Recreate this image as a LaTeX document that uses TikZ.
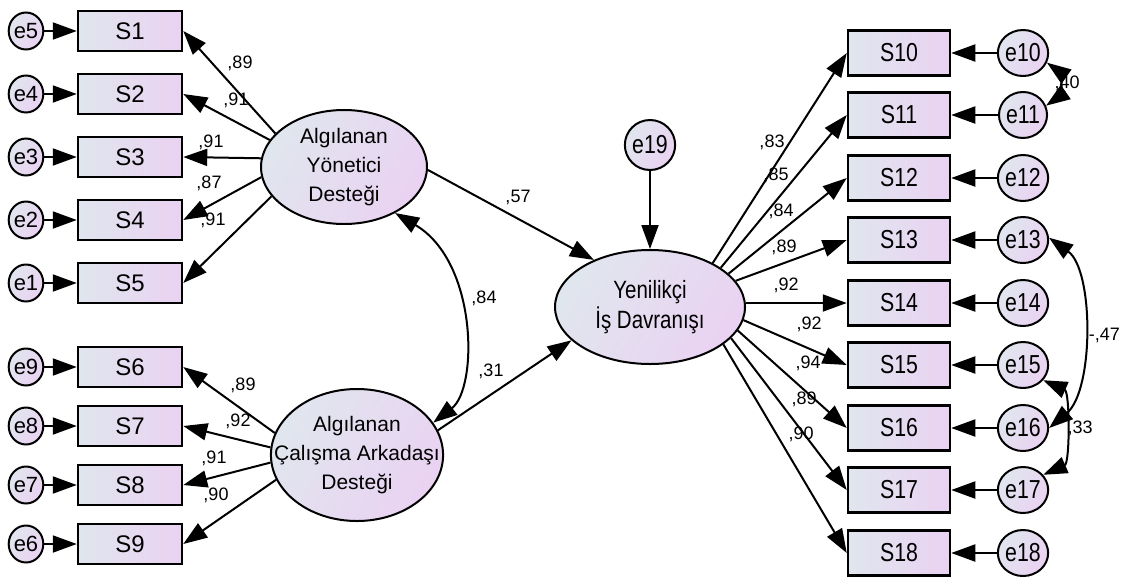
\documentclass[tikz,border=0pt]{standalone}
\usepackage{fontspec}
\setmainfont{Liberation Sans}
\newfontfamily\tallsans{Liberation Sans}[FakeStretch=0.82]
\usetikzlibrary{arrows.meta,shapes.geometric}
\definecolor{fillA}{RGB}{224,230,238}
\definecolor{fillB}{RGB}{234,210,242}

\begin{document}
\begin{tikzpicture}[x=1pt,y=-1pt,
  head/.tip={Triangle[length=24pt,width=17pt]},
  link/.style={line width=2pt,-head},
  cov/.style={line width=2pt,head-head},
  obsL/.style={draw,line width=2.5pt,minimum width=104pt,minimum height=40pt,inner sep=0pt,
    left color=fillA,right color=fillB,font=\fontsize{24}{27}\selectfont},
  obsR/.style={draw,line width=2.5pt,minimum width=102pt,minimum height=45pt,inner sep=0pt,
    left color=fillA,right color=fillB,font=\tallsans\fontsize{26}{29}\selectfont},
  errL/.style={draw,ellipse,line width=2pt,minimum width=34pt,minimum height=37pt,inner sep=0pt,
    left color=fillA,right color=fillB,shading angle=60,font=\fontsize{22}{24}\selectfont},
  errR/.style={draw,ellipse,line width=2pt,minimum width=36pt,minimum height=46pt,inner sep=0pt,
    left color=fillA,right color=fillB,shading angle=60,font=\tallsans\fontsize{26}{28}\selectfont},
  latent/.style={draw,ellipse,line width=2pt,inner sep=0pt,align=center,
    left color=fillA,right color=fillB,shading angle=60},
  coef/.style={inner sep=0pt,font=\fontsize{18}{20}\selectfont}
]
\useasboundingbox (0,0) rectangle (1121,579);

% latent constructs
\node[latent,minimum width=166pt,minimum height=114pt,font=\fontsize{21}{29}\selectfont]
  (Y) at (344,167) {Algılanan\\Yönetici\\Desteği};
\node[latent,inner xsep=-22pt,minimum width=168pt,minimum height=132pt,font=\fontsize{21}{29}\selectfont]
  (C) at (357,455) {Algılanan\\Çalışma Arkadaşı\\Desteği};
\node[latent,minimum width=190pt,minimum height=114pt,font=\tallsans\fontsize{25}{30}\selectfont]
  (YD) at (650,307) {Yenilikçi\\İş Davranışı};
\node[errR,minimum width=38pt,minimum height=50pt] (e19) at (650,145) {e19};

% left indicators and their errors
\foreach \n/\e/\y in {1/5/31,2/4/94,3/3/157,4/2/220,5/1/283,6/9/367,7/8/426,8/7/485,9/6/544}{
  \node[obsL] (S\n) at (130,\y) {S\n};
  \node[errL] (e\e) at (26,\y) {e\e};
  \draw[link] (e\e) -- (S\n);
}

% right indicators and their errors
\foreach \n/\y in {10/53,11/115,12/178,13/240,14/303,15/365,16/428,17/490,18/553}{
  \node[obsR] (S\n) at (899,\y) {S\n};
  \node[errR] (e\n) at (1023,\y) {e\n};
  \draw[link] (e\n) -- (S\n);
}

% loadings
\draw[link] (Y.154) -- (S1.east);
\draw[link] (Y.160) -- (S2.east);
\draw[link] (Y.174) -- (S3.east);
\draw[link] (Y.187) -- (S4.east);
\draw[link] (Y.202) -- (S5.east);
\draw[link] (C.165) -- (S6.east);
\draw[link] (C.175) -- (S7.east);
\draw[link] (C.185) -- (S8.east);
\draw[link] (C.197) -- (S9.east);
\draw[link] (YD.35) -- (S10.west);
\draw[link] (YD.29) -- (S11.west);
\draw[link] (YD.23) -- (S12.west);
\draw[link] (YD.17) -- (S13.west);
\draw[link] (YD.east |- S14) -- (S14.west);
\draw[link] (YD.-8) -- (S15.west);
\draw[link] (YD.-15) -- (S16.west);
\draw[link] (YD.-21) -- (S17.west);
\draw[link] (YD.-27) -- (S18.west);

% structural paths
\draw[link] (Y.-2) -- (YD.140);
\draw[link] (C.17) -- (YD.203);
\draw[link] (e19) -- (YD);

% covariances
\draw[cov] (Y.-42) .. controls (478,262) and (478,388) .. (C.23);
\draw[cov] (e10.-22) .. controls (1060,72) and (1060,96) .. (e11.22);
\draw[cov] (e13.5) .. controls (1094,270) and (1094,390) .. (e16.0);
\draw[cov] (e15.-37) .. controls (1070,392) and (1070,463) .. (e17.37);

% coefficients
\node[coef] (c1) at (240,63) {,89};
\node[coef] (c2) at (236,100) {,91};
\node[coef] (c3) at (211,142) {,91};
\node[coef] (c4) at (209,183) {,87};
\node[coef] (c5) at (213,220) {,91};
\node[coef] (c6) at (243,385) {,89};
\node[coef] (c7) at (238,421) {,92};
\node[coef] (c8) at (214,458) {,91};
\node[coef] (c9) at (216,495) {,90};
\node[coef] (c10) at (772,142) {,83};
\node[coef] (c11) at (776,175) {,85};
\node[coef] (c12) at (781,211) {,84};
\node[coef] (c13) at (784,247) {,89};
\node[coef] (c14) at (786,285) {,92};
\node[coef] (c15) at (809,324) {,92};
\node[coef] (c16) at (808,363) {,94};
\node[coef] (c17) at (804,399) {,89};
\node[coef] (c18) at (801,434) {,90};
\node[coef] (p1) at (518,197) {,57};
\node[coef] (p2) at (491,371) {,31};
\node[coef] (r1) at (484,298) {,84};
\node[coef] (r2) at (1067,83) {,40};
\node[coef,anchor=east] (r3) at (1120,335) {-,47};
\node[coef] (r4) at (1080,428) {,33};
\end{tikzpicture}
\end{document}
